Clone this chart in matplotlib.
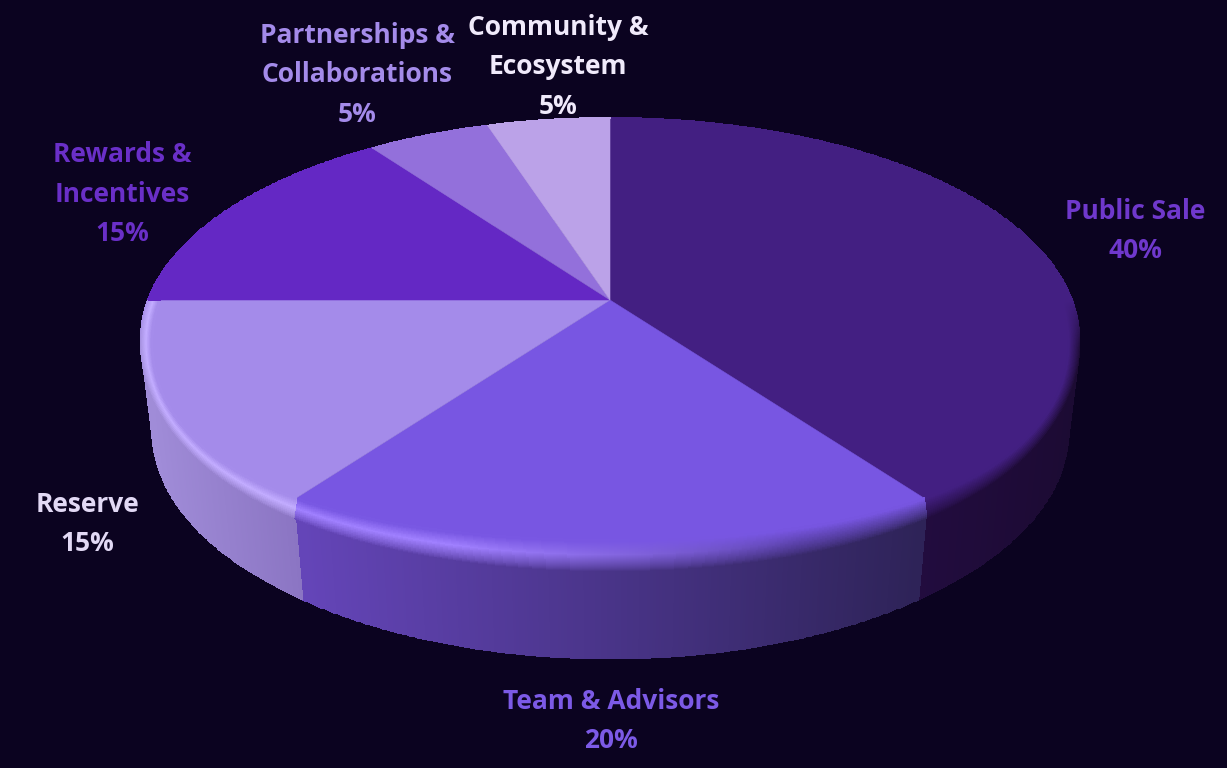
import numpy as np
import matplotlib
matplotlib.use('Agg')
import matplotlib.pyplot as plt
from matplotlib.colors import to_rgb
from matplotlib.patches import Polygon

# data
categories = ['Public Sale', 'Team & Advisors', 'Reserve', 'Rewards &\nIncentives',
              'Partnerships &\nCollaborations', 'Community &\nEcosystem']
shares = [40, 20, 15, 15, 5, 5]

# styles
top_colors = ['#431f82', '#7856e2', '#a48bea', '#6428c4', '#9370db', '#bba2e8']
glow_colors = ['#431f82', '#a080ff', '#c2acff', '#6428c4', '#9370db', '#bba2e8']
side_left = ['#220c3f', '#6445b8', '#a08cd8', '#4a2090', '#6d52a5', '#8c78ae']
side_right = ['#1c0b33', '#2e2358', '#8a74c2', '#4a2090', '#6d52a5', '#8c78ae']
side_x = [(920, 1078), (300, 920), (147, 300), (150, 380), (380, 490), (490, 610)]
label_colors = ['#6f38cc', '#7c5ae6', '#e2d9f5', '#6a2fc8', '#a48bea', '#f0eafb']
label_pos = [(1135, 231), (611, 721), (87, 524), (122, 194), (357, 75), (558, 67)]
bg = '#0b0320'

# pie geometry in image pixels
cx, cy = 610, 300
rx, ry = 462, 217.5
px, py = 0.175, 0.195
drop, shrink = 95, 0.975


def rim(theta, scale=1.0, dy=0.0):
    u, v = np.sin(theta), np.cos(theta)
    return cx + scale * rx * u / (1 + px * v), cy + dy - scale * ry * v / (1 + py * v)


def mix(a, b, t):
    return a + (b - a) * t


fig = plt.figure(figsize=(12.27, 7.68), dpi=100, facecolor=bg)
ax = fig.add_axes([0, 0, 1, 1])
ax.set_xlim(0, 1227)
ax.set_ylim(768, 0)
ax.axis('off')

edges = np.radians(np.cumsum([0] + shares) * 3.6)

# sides first, top face covers the back part of them
for i in range(len(shares)):
    th = np.linspace(edges[i], edges[i + 1], int(shares[i] * 12) + 2)
    x0, y0 = rim(th)
    x1, y1 = rim(th, shrink, drop)
    X = np.array([x0, x1])
    Y = np.array([y0, y1])
    xm = 0.5 * (x0[:-1] + x0[1:])
    f = np.clip((xm - side_x[i][0]) / (side_x[i][1] - side_x[i][0]), 0, 1)[:, None]
    c = mix(np.array(to_rgb(side_left[i])), np.array(to_rgb(side_right[i])), f)
    ax.pcolormesh(X, Y, c[None, :, :], shading='flat', edgecolors='face', linewidth=0.4)

# top face and soft bevel on the rim
for i in range(len(shares)):
    th = np.linspace(edges[i], edges[i + 1], int(shares[i] * 12) + 2)
    u, v = np.sin(th), np.cos(th)
    front = np.clip(-v, 0, 1)
    x0, y0 = rim(th)
    y0 = y0 + 70 * front ** 2 * (1 - front)
    xin = x0 - 12 * u ** 3 * np.clip(1 - v / 0.3, 0, 1)
    yin = y0 - 30 * front ** 2
    pts = np.column_stack([np.r_[cx, xin], np.r_[cy, yin]])
    ax.add_patch(Polygon(pts, closed=True, fc=top_colors[i], ec=top_colors[i], lw=0.4))

    ts = np.linspace(0, 1, 31)
    X = np.array([x0 + (xin - x0) * t for t in ts])
    Y = np.array([y0 + (yin - y0) * t for t in ts])
    xm = 0.5 * (x0[:-1] + x0[1:])
    f = np.clip((xm - side_x[i][0]) / (side_x[i][1] - side_x[i][0]), 0, 1)[:, None]
    side = mix(np.array(to_rgb(side_left[i])), np.array(to_rgb(side_right[i])), f)
    flat = np.array(to_rgb(top_colors[i]))
    glow = np.array(to_rgb(glow_colors[i]))
    h = np.clip((800 - xm) / 350, 0, 1)[:, None]
    vm = np.cos(0.5 * (th[:-1] + th[1:]))[:, None]
    # rim only turns to the side colour once it comes round to the front
    side = mix(flat, side, np.clip(-vm / 0.2, 0, 1))
    mid = h * glow + (1 - h) * mix(side, flat, 0.6)
    tm = 0.5 * (ts[:-1] + ts[1:])
    c = np.zeros((len(tm), len(xm), 3))
    for j, t in enumerate(tm):
        if t < 0.55:
            c[j] = mix(side, mid, (t / 0.55) ** 0.8)
        else:
            c[j] = mix(mid, flat[None, :], (t - 0.55) / 0.45)
    ax.pcolormesh(X, Y, c, shading='flat', edgecolors='face', linewidth=0.3)

for name, share, col, pos in zip(categories, shares, label_colors, label_pos):
    ax.text(pos[0], pos[1], f'{name}\n{share}%', color=col, ha='center', va='center',
            family='Open Sans', weight='bold', fontsize=19, linespacing=1.58)

fig.savefig('out.png', dpi=100, facecolor=bg)
